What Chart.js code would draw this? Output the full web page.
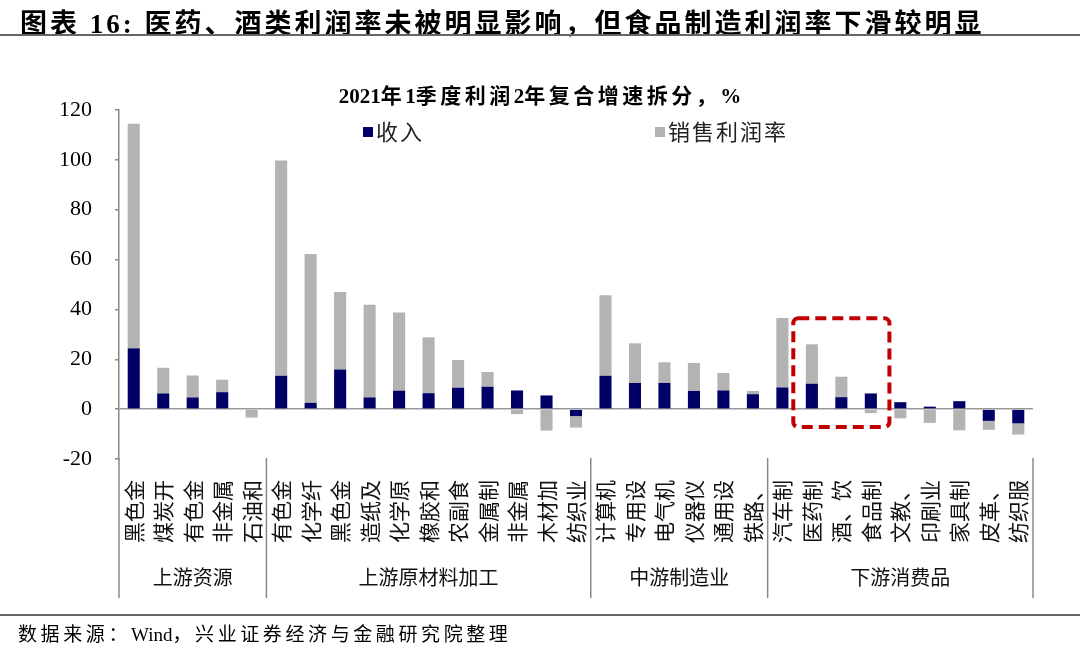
<!DOCTYPE html>
<html lang="zh">
<head>
<meta charset="utf-8">
<title>2021年1季度利润2年复合增速拆分</title>
<script src="https://cdn.jsdelivr.net/npm/chart.js@4.4.1/dist/chart.umd.min.js"></script>
<style>
  body { margin: 0; background: #fff; }
  #wrap { position: relative; width: 1080px; height: 652px; overflow: hidden;
          font-family: "Liberation Serif", "Noto Sans CJK SC", serif; color: #000; }
  #chart { position: absolute; left: 0; top: 0; }
  .head { position: absolute; left: 20px; top: 2px; font-size: 27px; font-weight: bold;
          letter-spacing: 3px; white-space: nowrap; }
  .rule { position: absolute; left: 0; width: 1080px; height: 2px; background: #666; }
  .sub { position: absolute; left: 0; width: 1080px; top: 79px; text-align: center;
         font-size: 21px; font-weight: bold; letter-spacing: 3.5px; white-space: nowrap; }
  .lg { position: absolute; top: 114px; font-size: 22px; letter-spacing: 2px; color: #222; white-space: nowrap; }
  .lg i { display: inline-block; width: 10px; height: 10px; margin-right: 3px; vertical-align: 3px; }
  .foot { position: absolute; left: 18px; top: 619px; font-size: 19px; letter-spacing: 3.6px; white-space: nowrap; }
  .n { letter-spacing: 0; }
</style>
</head>
<body>
<div id="wrap">
  <canvas id="chart" width="1080" height="652"></canvas>
  <div class="head">图表 16: 医药、酒类利润率未被明显影响，但食品制造利润率下滑较明显</div>
  <div class="rule" style="top:34px"></div>
  <div class="sub"><span class="n">2021</span>年<span class="n">1</span>季度利润<span class="n">2</span>年复合增速拆分，<span class="n">%</span></div>
  <div class="lg" style="left:363px"><i style="background:#000066"></i>收入</div>
  <div class="lg" style="left:655px"><i style="background:#b3b3b3"></i>销售利润率</div>
  <div class="rule" style="top:614px"></div>
  <div class="foot">数据来源：<span class="n">Wind</span>，兴业证券经济与金融研究院整理</div>
</div>
<script>
// Industry names (first three characters, as printed on the axis)
const categories = [
    '黑色金', '煤炭开', '有色金', '非金属', '石油和',
    '有色金', '化学纤', '黑色金', '造纸及', '化学原', '橡胶和', '农副食', '金属制', '非金属', '木材加', '纺织业',
    '计算机', '专用设', '电气机', '仪器仪', '通用设', '铁路、',
    '汽车制', '医药制', '酒、饮', '食品制', '文教、', '印刷业', '家具制', '皮革、', '纺织服'
];
const groupNames = ['上游资源', '上游原材料加工', '中游制造业', '下游消费品'];
const groupSizes = [5, 11, 6, 9];

// Contribution to 2-year compound profit growth, %
const income = [24.4, 6.3, 4.7, 6.8, 0.3,
    13.4, 2.5, 15.9, 4.7, 7.4, 6.4, 8.6, 9.0, 7.5, 5.5, -2.8,
    13.4, 10.5, 10.5, 7.3, 7.5, 6.0,
    8.7, 10.2, 4.8, 6.3, 2.8, 1.0, 3.2, -4.7, -5.7];
const margin = [90.1, 10.3, 8.8, 5.0, -3.4,
    86.3, 59.7, 31.1, 37.2, 31.4, 22.4, 11.1, 5.9, -2.0, -8.6, -4.6,
    32.3, 15.9, 8.3, 11.2, 7.0, 1.3,
    27.9, 15.8, 8.2, -1.6, -3.7, -5.5, -8.5, -3.6, -4.5];

const yTicks = [-20, 0, 20, 40, 60, 80, 100, 120];

// Highlight box around 医药 / 酒饮 / 食品 (category indexes and value range)
const boxFrom = 23, boxTo = 25, boxTop = 36.5, boxBottom = -7.2;

const groupsPlugin = {
    id: 'groups',
    afterDraw(chart) {
        const { ctx, chartArea, scales: { x, y } } = chart;
        const step = x.getPixelForValue(1) - x.getPixelForValue(0);
        const bottom = 598;

        ctx.save();
        // group dividers
        ctx.strokeStyle = '#888';
        ctx.lineWidth = 1.5;
        const edges = [chartArea.left];
        let end = 0;
        groupSizes.forEach(n => {
            end += n;
            edges.push(x.getPixelForValue(end - 1) + step / 2);
        });
        edges.forEach(ex => {
            ctx.beginPath();
            ctx.moveTo(ex, chartArea.bottom - 1);
            ctx.lineTo(ex, bottom);
            ctx.stroke();
        });

        // group names
        ctx.fillStyle = '#111';
        ctx.font = '20px "Noto Sans CJK SC"';
        ctx.textAlign = 'center';
        ctx.textBaseline = 'middle';
        groupNames.forEach((name, i) => {
            ctx.fillText(name, (edges[i] + edges[i + 1]) / 2, 577);
        });

        // red dashed highlight
        const left = x.getPixelForValue(boxFrom) - step * 0.63;
        const right = x.getPixelForValue(boxTo) + step * 0.63;
        const top = y.getPixelForValue(boxTop);
        const bot = y.getPixelForValue(boxBottom);
        ctx.strokeStyle = '#c00000';
        ctx.lineWidth = 4;
        ctx.setLineDash([11, 6]);
        ctx.beginPath();
        ctx.roundRect(left, top, right - left, bot - top, 5);
        ctx.stroke();
        ctx.restore();
    }
};

new Chart(document.getElementById('chart'), {
    type: 'bar',
    data: {
        labels: categories,
        datasets: [{
            label: '收入',
            data: income,
            backgroundColor: '#000066'
        }, {
            label: '销售利润率',
            data: margin,
            backgroundColor: '#b3b3b3'
        }]
    },
    options: {
        responsive: false,
        animation: false,
        devicePixelRatio: 1,
        layout: { padding: { top: 110, right: 47, left: 0, bottom: 0 } },
        datasets: { bar: { categoryPercentage: 1, barPercentage: 0.41 } },
        plugins: {
            legend: { display: false },
            title: { display: false },
            tooltip: { enabled: false }
        },
        scales: {
            x: {
                stacked: true,
                grid: { display: false },
                border: { display: false },
                afterFit: axis => { axis.height = 193; },
                ticks: {
                    autoSkip: false,
                    maxRotation: 90,
                    minRotation: 90,
                    padding: 13,
                    color: '#111',
                    font: { family: '"Noto Sans CJK SC"', size: 21 }
                }
            },
            y: {
                stacked: true,
                min: -20,
                max: 120,
                afterFit: axis => { axis.width = 119; },
                afterBuildTicks: axis => { axis.ticks = yTicks.map(v => ({ value: v })); },
                border: { color: '#888', width: 1.5 },
                grid: {
                    drawTicks: true,
                    tickLength: 4,
                    tickColor: '#888',
                    lineWidth: 1.5,
                    color: c => (c.tick && c.tick.value === 0 ? '#999' : 'rgba(0,0,0,0)')
                },
                ticks: {
                    padding: 23,
                    color: '#000',
                    font: { family: '"Liberation Serif"', size: 22 }
                }
            }
        }
    },
    plugins: [groupsPlugin]
});
</script>
</body>
</html>
